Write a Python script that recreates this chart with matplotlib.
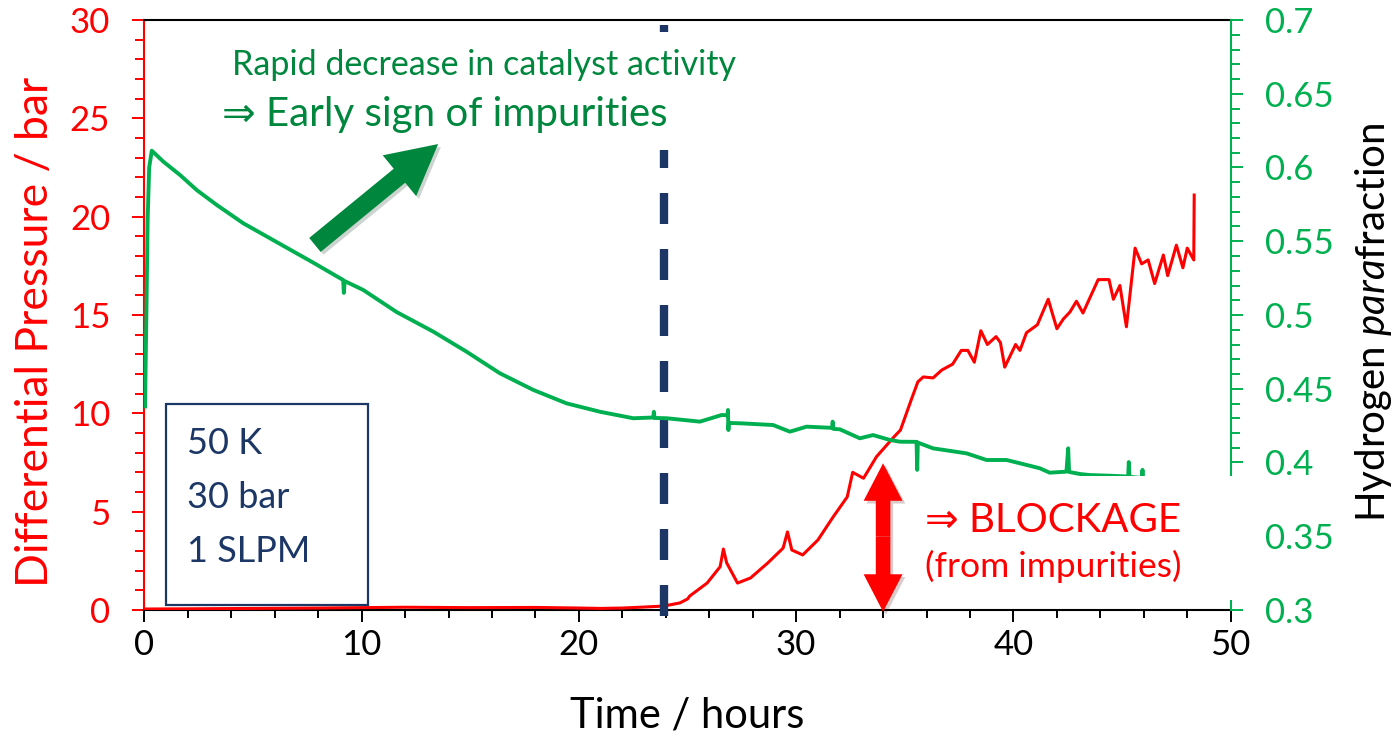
import matplotlib
matplotlib.use('Agg')
import matplotlib.pyplot as plt
import matplotlib.patheffects as pe
from matplotlib.patches import FancyArrowPatch, Rectangle
from matplotlib.ticker import MultipleLocator, FuncFormatter

plt.rcParams['font.family'] = ['Lato', 'DejaVu Sans']
plt.rcParams['mathtext.fontset'] = 'custom'
plt.rcParams['mathtext.rm'] = 'Lato'
plt.rcParams['mathtext.it'] = 'Lato:italic'

# differential pressure across the catalyst bed (bar)
t_dp = [0, 2, 5, 8, 10, 12, 15, 18, 20, 21, 22, 23, 23.9, 24.65, 25.0, 25.1,
        25.9, 26.5, 26.65, 26.8, 27.3, 27.9, 28.7, 29.4, 29.6, 29.8, 30.3,
        31.0, 31.7, 32.35, 32.6, 33.1, 33.7, 34.5, 34.8, 35.3, 35.6, 35.85,
        36.3, 36.7, 37.2, 37.6, 37.9, 38.2, 38.5, 38.8, 39.2, 39.4, 39.6,
        40.1, 40.3, 40.6, 41.1, 41.6, 42.0, 42.3, 42.6, 42.9, 43.2, 43.9,
        44.4, 44.6, 44.9, 45.2, 45.6, 45.9, 46.2, 46.5, 46.9, 47.1, 47.5,
        47.8, 48.0, 48.3, 48.32]
dp = [0.05, 0.06, 0.08, 0.1, 0.12, 0.14, 0.12, 0.13, 0.1, 0.08, 0.1, 0.15,
      0.2, 0.36, 0.56, 0.71, 1.37, 2.2, 3.1, 2.4, 1.37, 1.63, 2.4, 3.15,
      3.97, 3.05, 2.8, 3.56, 4.73, 5.75, 7.0, 6.7, 7.8, 8.8, 9.15, 10.7,
      11.6, 11.85, 11.8, 12.2, 12.5, 13.2, 13.2, 12.6, 14.2, 13.5, 13.9,
      13.6, 12.35, 13.5, 13.2, 14.1, 14.5, 15.8, 14.3, 14.8, 15.15, 15.7,
      15.1, 16.8, 16.8, 15.8, 16.5, 14.4, 18.4, 17.6, 17.8, 16.6, 18.05,
      17.0, 18.55, 17.4, 18.4, 17.8, 21.1]

# para fraction at the outlet
t_para = [0.03, 0.1, 0.15, 0.22, 0.34, 0.87, 1.64, 2.41, 3.33, 4.55, 5.78,
          7.01, 7.7, 9.15, 9.18, 9.22, 10.07, 11.61, 13.3, 14.83, 16.36,
          17.9, 19.43, 20.97, 22.5, 23.42, 23.45, 23.48, 24.04, 25.57,
          26.57, 26.84, 26.86, 26.88, 26.9, 27.41, 28.94, 29.71, 30.48,
          31.65, 31.68, 31.71, 32.01, 32.93, 33.54, 34.31, 34.77, 35.54,
          35.57, 35.6, 36.3, 37.84, 38.76, 39.68, 40.29, 41.21, 41.67,
          42.44, 42.52, 42.56, 43.06, 43.5, 44.5, 45.28, 45.31, 45.34,
          45.91, 45.94, 45.97, 46.3, 47.3, 48.3]
para = [0.438, 0.51, 0.565, 0.6, 0.6114, 0.604, 0.5949, 0.5847, 0.5746,
        0.5622, 0.552, 0.5418, 0.5361, 0.5237, 0.515, 0.523, 0.517, 0.502,
        0.4887, 0.4751, 0.4605, 0.4492, 0.4401, 0.4344, 0.43, 0.4305,
        0.4344, 0.4302, 0.43, 0.4277, 0.4322, 0.432, 0.4356, 0.422, 0.4268,
        0.4266, 0.4254, 0.4209, 0.4243, 0.4235, 0.4277, 0.4228, 0.4225,
        0.4164, 0.4186, 0.4153, 0.4141, 0.414, 0.395, 0.4135, 0.4096,
        0.4062, 0.4017, 0.4017, 0.3995, 0.3961, 0.3931, 0.3938, 0.4096,
        0.3936, 0.3922, 0.3915, 0.391, 0.3905, 0.4003, 0.3903, 0.3895,
        0.395, 0.389, 0.388, 0.387, 0.386]

red = '#FF0000'
green = '#00B050'
dark_green = '#00873E'
navy = '#1C3766'


def bar_to_para(p):
    # left-axis pressure value expressed on the right-axis scale
    return 0.3 + p * 0.4 / 30


fig = plt.figure(figsize=(13.96, 7.38), dpi=100)
ax = fig.add_axes([144.4 / 1396, 128 / 738, 1086.3 / 1396, 590 / 738])
par = ax.twinx()

ax.plot(t_dp, dp, color=red, lw=2.2, zorder=3)
par.plot(t_para, para, color=green, lw=2.8)

ax.set_xlim(0, 50)
ax.set_ylim(0, 30)
par.set_ylim(0.3, 0.7)

ax.xaxis.set_major_locator(MultipleLocator(10))
ax.xaxis.set_minor_locator(MultipleLocator(2))
ax.yaxis.set_major_locator(MultipleLocator(5))
ax.yaxis.set_minor_locator(MultipleLocator(1))
par.yaxis.set_major_locator(MultipleLocator(0.05))
par.yaxis.set_minor_locator(MultipleLocator(0.01))
par.yaxis.set_major_formatter(FuncFormatter(lambda v, pos: f'{v:g}'))

ax.tick_params(axis='x', which='both', direction='out', width=1.4,
               colors='black', labelsize=25, pad=5)
ax.tick_params(axis='x', which='major', length=8.6)
ax.tick_params(axis='x', which='minor', length=6)
ax.tick_params(axis='y', which='both', direction='out', width=1.4,
               colors=red, labelsize=25, pad=16)
ax.tick_params(axis='y', which='major', length=8.6)
ax.tick_params(axis='y', which='minor', length=6.5)
par.tick_params(axis='y', which='both', direction='out', width=1.4,
                colors=green, labelsize=25, pad=16)
par.tick_params(axis='y', which='major', length=8.6)
par.tick_params(axis='y', which='minor', length=6.5)

for side in ['left', 'right', 'top', 'bottom']:
    ax.spines[side].set_linewidth(1.5)
    par.spines[side].set_linewidth(1.5)
ax.spines['right'].set_visible(False)
ax.spines['left'].set_color(red)
for side in ['left', 'top', 'bottom']:
    par.spines[side].set_visible(False)
par.spines['right'].set_color(green)

# start of the pressure rise
ax.axvline(23.9, ymin=-0.0102, ymax=0.9932, color=navy, lw=6,
           linestyle=(0, (3.72, 3.0)), clip_on=False, zorder=4)

# white backgrounds behind the two annotations
par.add_patch(Rectangle((0.065, 0.7797), 0.428, 0.2, transform=par.transAxes,
                        facecolor='white', edgecolor='none', zorder=5,
                        clip_on=False))
par.add_patch(Rectangle((0.700, 0.01695), 0.3141, 0.2102,
                        transform=par.transAxes, facecolor='white',
                        edgecolor='none', zorder=5, clip_on=False))

par.text(4.03, 0.6627, 'Rapid decrease in catalyst activity', color=dark_green,
         fontsize=24.5, va='baseline', zorder=6)
par.text(3.57, 0.6281, '⇒ Early sign of impurities', color=dark_green,
         fontsize=29, va='baseline', zorder=6)
par.text(35.92, 0.3529, '⇒ BLOCKAGE', color=red, fontsize=29,
         va='baseline', zorder=6)
par.text(35.92, 0.3224, '(from impurities)', color=red, fontsize=25.5,
         va='baseline', zorder=6)

# run conditions
par.add_patch(Rectangle((0.01988, 0.00847), 0.186, 0.3407,
                        transform=par.transAxes, facecolor='white',
                        edgecolor=navy, lw=1.6, zorder=5))
for label, v in zip(['50 K', '30 bar', '1 SLPM'], [0.4058, 0.3692, 0.3325]):
    par.text(1.96, v, label, color=navy, fontsize=26, va='baseline', zorder=6)

shadow = [pe.SimplePatchShadow(offset=(2, -2), alpha=0.2), pe.Normal()]

par.add_patch(FancyArrowPatch(
    (7.85, 0.5475), (13.52, 0.6159),
    arrowstyle='simple,head_length=36,head_width=38,tail_width=13',
    mutation_scale=1, shrinkA=0, shrinkB=0, color=dark_green, lw=0,
    zorder=6, path_effects=shadow))

mid = bar_to_para(3.73)
for end in [bar_to_para(7.46), bar_to_para(-0.09)]:
    par.add_patch(FancyArrowPatch(
        (34.0, mid), (34.0, end),
        arrowstyle='simple,head_length=27,head_width=28,tail_width=10.5',
        mutation_scale=1, shrinkA=0, shrinkB=0, color=red, lw=0,
        zorder=6, clip_on=False, path_effects=shadow))

fig.text(36 / 1396, 1 - 332 / 738, 'Differential Pressure / bar', rotation=90,
         ha='center', va='center', color=red, fontsize=32)
fig.text(687.5 / 1396, 1 - 715 / 738, 'Time / hours', ha='center',
         va='center', color='black', fontsize=30)
fig.text(1374 / 1396, 1 - 322 / 738, r'Hydrogen $\mathit{para}$fraction',
         rotation=90, ha='center', va='center', color='black', fontsize=29)

fig.savefig('out.png', dpi=100)
